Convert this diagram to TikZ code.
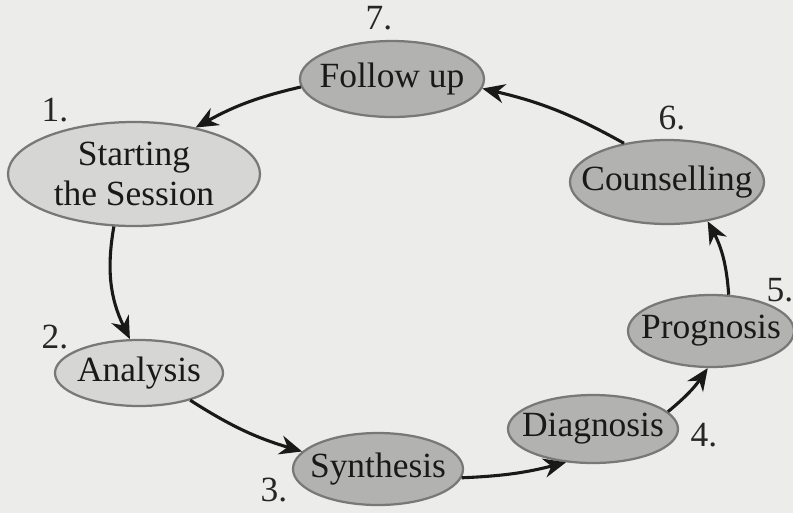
\documentclass[tikz,border=0pt]{standalone}
\usepackage{fontspec}
\setmainfont{Liberation Serif}
\usetikzlibrary{shapes.geometric}
\usetikzlibrary{arrows.meta}

\definecolor{paper}{RGB}{236,236,234}
\definecolor{lightfill}{RGB}{214,214,212}
\definecolor{darkfill}{RGB}{178,178,176}
\definecolor{rimgray}{RGB}{120,120,120}

% text that does not widen the ellipse
\newcommand{\stg}[1]{\makebox[0pt]{#1}}

\begin{document}
\begin{tikzpicture}[x=0.125mm, y=-0.125mm,
  stage/.style={ellipse, draw=rimgray, line width=0.8pt, inner sep=0pt,
    font=\fontsize{12.6}{14.5}\selectfont, text=black!90},
  lightstage/.style={stage, fill=lightfill},
  darkstage/.style={stage, fill=darkfill},
  numlabel/.style={font=\fontsize{12.6}{14}\selectfont, text=black!85, inner sep=0pt},
  flow/.style={black!90, line width=1.1pt, -{Stealth[length=2.8mm,width=2.4mm]}}]

\fill[paper] (0,0) rectangle (793,513);
\useasboundingbox (0,0) rectangle (793,513);

%stages
\node[darkstage, minimum width=23mm, minimum height=9.5mm] (follow) at (392,79) {\stg{Follow up}};
\node[lightstage, minimum width=31.5mm, minimum height=13mm, align=center] (start) at (134,174) {\stg{Starting}\\\stg{the Session}};
\node[lightstage, minimum width=21mm, minimum height=8.25mm] (analysis) at (139,373) {\stg{Analysis}};
\node[darkstage, minimum width=21.25mm, minimum height=9mm] (synthesis) at (378,469) {\stg{Synthesis}};
\node[darkstage, minimum width=21.25mm, minimum height=8.5mm] (diagnosis) at (593,429) {\stg{Diagnosis}};
\node[darkstage, minimum width=20.75mm, minimum height=9mm] (prognosis) at (711,331) {\stg{Prognosis}};
\node[darkstage, minimum width=24.25mm, minimum height=10.5mm] (counselling) at (667,182) {\stg{Counselling}};

%numbers
\node[numlabel] (n1) at (55,110) {1.};
\node[numlabel] (n2) at (55,337) {2.};
\node[numlabel] (n3) at (274,490) {3.};
\node[numlabel] (n4) at (704,435) {4.};
\node[numlabel] (n5) at (780,290) {5.};
\node[numlabel] (n6) at (672,118) {6.};
\node[numlabel] (n7) at (379,18) {7.};

%arrows
\draw[flow] (follow.185) to[bend right=8] (start.37);
\draw[flow] (start.249) to[bend right=18] (analysis.105);
\draw[flow] (analysis.332) to[bend right=8] (synthesis.167);
\draw[flow] (synthesis.354) to[bend right=6] (diagnosis.231);
\draw[flow] (diagnosis.13) to[bend right=8] (prognosis.265);
\draw[flow] (prognosis.64) to[bend right=12] (counselling.316);
\draw[flow] (counselling.138) to[bend right=8] (follow.354);

\end{tikzpicture}
\end{document}
